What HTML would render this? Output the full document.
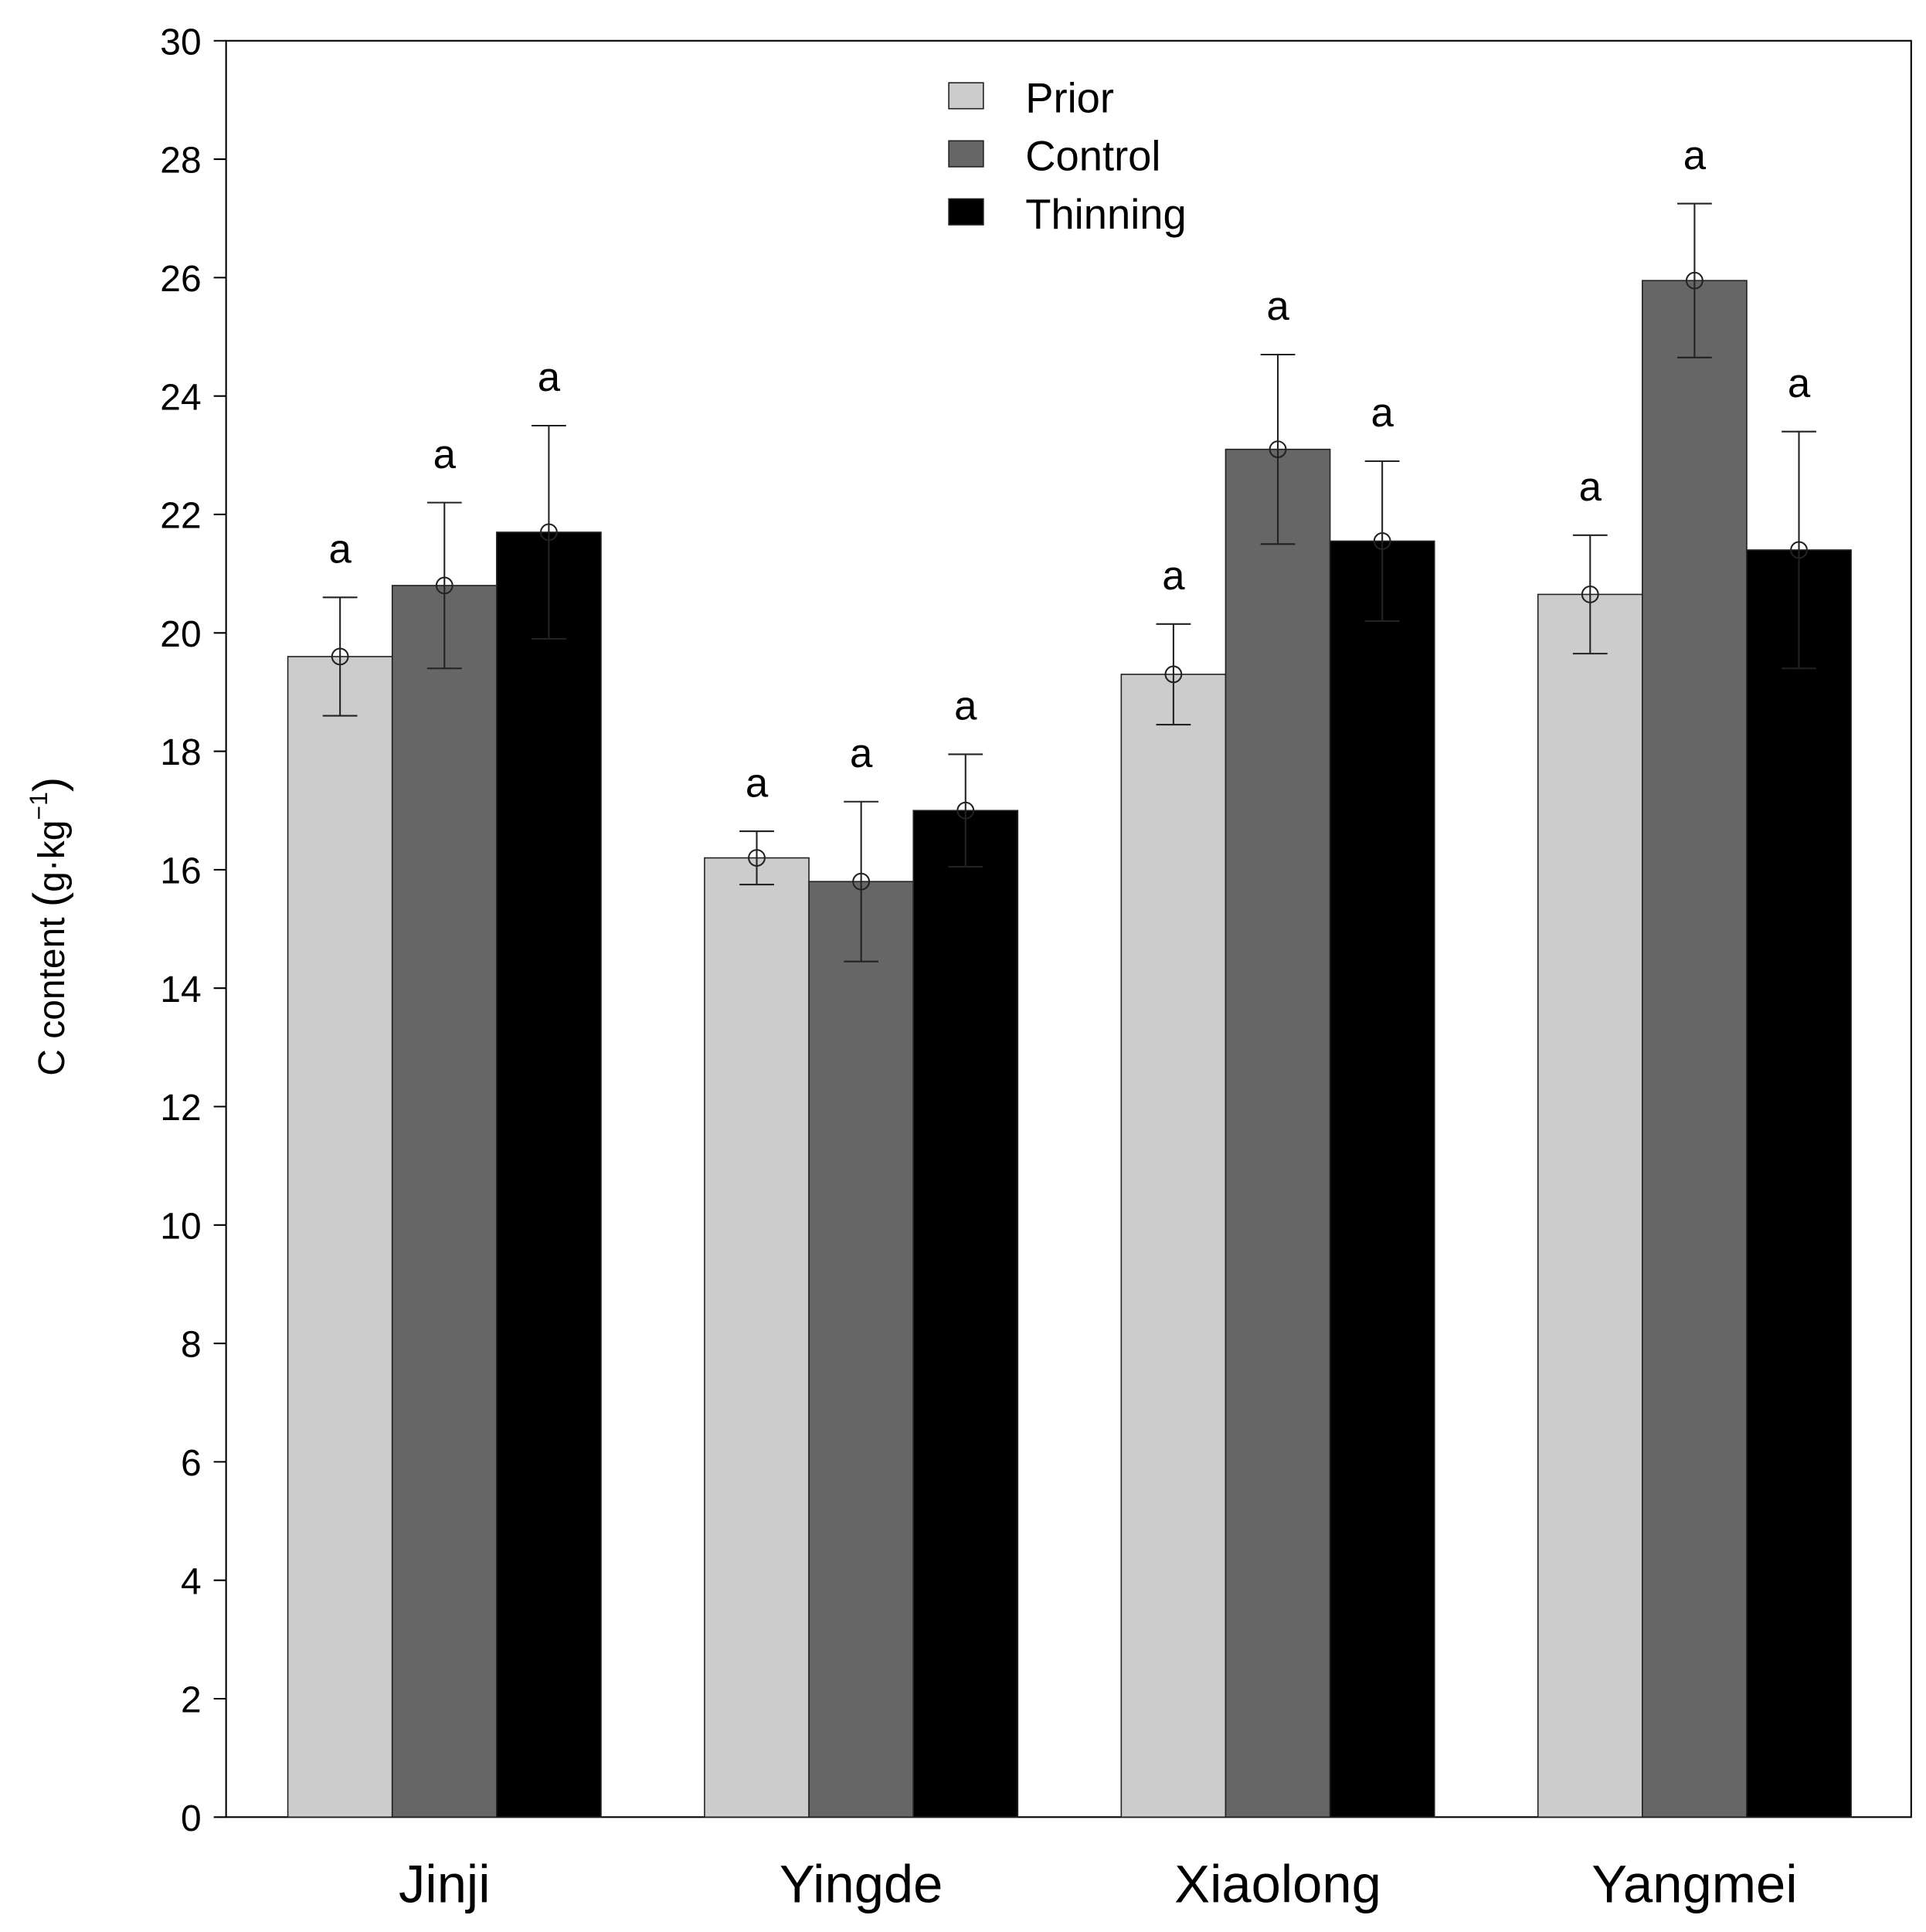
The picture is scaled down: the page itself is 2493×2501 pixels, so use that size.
<!DOCTYPE html>
<html><head><meta charset="utf-8"><style>
html,body{margin:0;padding:0;background:#fff;}
svg{display:block;font-family:"Liberation Sans",Arial,sans-serif;}
</style></head><body>
<svg id="chart" width="2493" height="2501" viewBox="0 0 1559 1564" preserveAspectRatio="none" xmlns="http://www.w3.org/2000/svg">
<g id="axes"></g><g id="bars"></g><g id="legend"></g>
</svg>
<script>
const categories = ["Jinji","Yingde","Xiaolong","Yangmei"];
const seriesNames = ["Prior","Control","Thinning"];
const priorValues = [19.6,16.2,19.3,20.65];
const controlValues = [20.8,15.8,23.1,25.95];
const thinningValues = [21.7,17.0,21.55,21.4];
const priorErr = [1.0,0.45,0.85,1.0];
const controlErr = [1.4,1.35,1.6,1.3];
const thinningErr = [1.8,0.95,1.35,2.0];
const yTicks = [0,2,4,6,8,10,12,14,16,18,20,22,24,26,28,30];
const sigLetters = [["a","a","a"],["a","a","a"],["a","a","a"],["a","a","a"]];

const NS="http://www.w3.org/2000/svg";
const L=183,R=1547,T=33,B=1471,yMax=30;
const y=v=>B-(v/yMax)*(B-T);
const groupStart=i=>233+i*337.3;
const barW=84.5;
const colors=["#cccccc","#666666","#000000"];
const values=[priorValues,controlValues,thinningValues];
const errs=[priorErr,controlErr,thinningErr];
function mk(tag,attrs,parent,text){const e=document.createElementNS(NS,tag);for(const k in attrs)e.setAttribute(k,attrs[k]);if(text!==undefined)e.textContent=text;parent.appendChild(e);return e;}
const axes=document.getElementById('axes'),bars=document.getElementById('bars'),leg=document.getElementById('legend');

let frame=mk('rect',{x:L,y:T,width:R-L,height:B-T,fill:'none',stroke:'#000','stroke-width':1.3},axes);


yTicks.forEach(t=>{
 let tk=mk('line',{x1:L-10,x2:L,y1:y(t),y2:y(t),stroke:'#000','stroke-width':1.3},axes);
 
 
 let lb=mk('text',{x:L-20,y:y(t)+11,'text-anchor':'end','font-size':30},axes,String(t));
 
 
});
let yt=mk('text',{transform:'translate(52,750) rotate(-90)','text-anchor':'middle','font-size':30},axes);


yt.innerHTML='C content <tspan font-size="36">(</tspan>g\u00b7kg<tspan font-size="20" dy="-14">\u22121</tspan><tspan dy="14" font-size="36">)</tspan>';

categories.forEach((c,i)=>{
 let xl=mk('text',{x:groupStart(i)+barW*1.5,y:1540,'text-anchor':'middle','font-size':43},axes,c);
 
 
 for(let s=0;s<3;s++){
  const v=values[s][i],e=errs[s][i],x0=groupStart(i)+s*barW,cx=x0+barW/2;
  let r=mk('rect',{x:x0,y:y(v),width:barW,height:B-y(v),fill:colors[s],stroke:'#222','stroke-width':1},bars);
  
  
  let g=mk('g',{stroke:'#222','stroke-width':1.3,fill:'none'},bars);
  
  
  mk('line',{x1:cx,x2:cx,y1:y(v+e),y2:y(v-e)},g);
  mk('line',{x1:cx-14,x2:cx+14,y1:y(v+e),y2:y(v+e)},g);
  mk('line',{x1:cx-14,x2:cx+14,y1:y(v-e),y2:y(v-e)},g);
  mk('circle',{cx:cx,cy:y(v),r:6.5},g);
  let a=mk('text',{x:cx,y:y(v+e)-28,'text-anchor':'middle','font-size':33},bars,sigLetters[i][s]);
  
  
 }
});
seriesNames.forEach((n,s)=>{
 let g=mk('g',{},leg);
 
 
 mk('rect',{x:768,y:67+s*47,width:28,height:21,fill:colors[s],stroke:'#222','stroke-width':1},g);
 mk('text',{x:830,y:91+s*47,'font-size':34},g,n);
});
</script>
</body></html>
